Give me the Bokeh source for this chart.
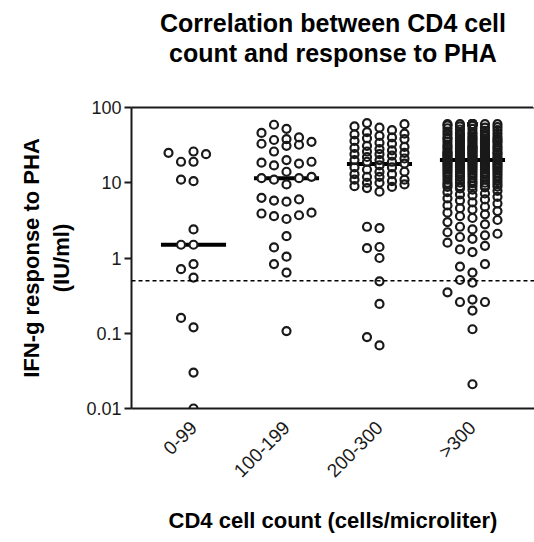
import math
import numpy as np
from bokeh.plotting import figure
from bokeh.models import (Range1d, FixedTicker, CustomJSTickFormatter, Span, ColumnDataSource,
                          Title, LinearAxis)
from bokeh.embed import file_html
from bokeh.resources import INLINE

# ---------------- data ----------------
categories = ["0-99", "100-199", "200-300", ">300"]

pha_0_99 = [26, 24, 25, 19, 19, 11, 10.5, 2.4, 1.5, 1.5, 0.83, 0.71, 0.55, 0.16, 0.12, 0.03, 0.01]

pha_100_199 = [59, 52, 46, 40, 38, 37, 35, 33, 32, 31, 26, 20, 19, 18.5, 18, 17, 14, 12, 11.5,
               11.5, 11, 9.5, 6.3, 6, 5.8, 5.6, 4, 3.9, 3.7, 3.6, 3.3, 1.95, 1.38, 1.04, 0.83,
               0.64, 0.107]

pha_200_300 = [62, 60, 56, 54, 50, 47, 45, 44, 42, 40, 39, 38, 36, 34, 33, 31, 30, 29, 28, 27,
               26, 25, 24, 24, 23, 22, 21, 20, 20, 19, 19, 18, 17, 16, 16, 15, 14, 14, 13, 13,
               12, 12, 11, 11, 10.5, 10, 10, 9.5, 9, 8.8, 8.5, 7.6, 2.6, 2.5, 1.4, 1.35, 1.0,
               0.49, 0.245, 0.089, 0.069]

pha_over_300 = [60, 60, 60, 60, 60, 60, 60, 60, 60, 60, 60, 60, 60, 60,
                58, 57, 56, 55, 54, 53, 52, 51, 50,
                49, 48, 47, 46, 45, 45, 44, 44, 43, 42, 41, 41, 40, 40,
                39, 39, 38, 38, 38, 37, 37, 36, 36, 35, 35, 35, 34, 34, 33, 33, 32, 32, 31, 31,
                31, 30, 30, 30,
                29, 29, 29, 29, 28, 28, 28, 27, 27, 27, 27, 26, 26, 26, 26, 25, 25, 25, 25, 25,
                24, 24, 24, 24, 24, 23, 23, 23, 23, 22, 22, 22, 22, 22, 21, 21, 21, 21, 21,
                20, 20, 20, 20, 20,
                19.5, 19, 19, 19, 18.5, 18.5, 18, 18, 18, 17.5, 17.5, 17, 17, 17, 16.5, 16.5,
                16, 16, 16, 15.5, 15.5, 15, 15, 15, 14.5, 14.5, 14, 14, 14, 13.5, 13.5, 13, 13,
                13, 12.5, 12.5, 12, 12, 12, 11.5, 11.5, 11, 11, 11, 10.5, 10.5, 10, 10, 10,
                9.8, 9.6, 9.4, 9.2, 9, 9, 8.9, 8.8, 8.7,
                8.4, 8.1, 7.8, 7.5, 7.2, 7, 6.8, 6.5, 6.2, 6, 5.8, 5.5, 5.3, 5, 4.8, 4.6, 4.4,
                4.2, 4, 3.8, 3.6, 3.4, 3.2, 3, 2.8, 2.6, 2.4, 2.2, 2.1, 2, 1.9, 1.8, 1.6, 1.45,
                1.3, 1.2,
                0.83, 0.77, 0.64, 0.51, 0.47, 0.35, 0.28, 0.26, 0.26, 0.2, 0.113, 0.021]

medians = [1.5, 11.5, 17.8, 20]
cutoff = 0.5
y_ticks = [0.01, 0.1, 1, 10, 100]
title_lines = ["Correlation between CD4 cell", "count and response to PHA"]

groups = [pha_0_99, pha_100_199, pha_200_300, pha_over_300]

# ---------------- layout / style ----------------
FRAME_W, FRAME_H = 403, 301
X_START, X_END = -0.667, 3.667
Y_START, Y_END = 0.01, 100
MARKER_PX = 10.0
LANE_PX = 12.5
MAX_LANE = 2
MEDIAN_HALF = 0.35
FONT = "Liberation Sans"
INK = "#1a1a1a"
TITLE_GAP = 41   # space between the frame top and the title block

px_per_unit = FRAME_W / (X_END - X_START)
px_per_decade = FRAME_H / (math.log10(Y_END) - math.log10(Y_START))
gap_decades = MARKER_PX / px_per_decade
lane_step = LANE_PX / px_per_unit


def swarm_lanes(values):
    """Greedy column-scatter layout: put each point in the nearest free lane."""
    lane_order = [0]
    for k in range(1, MAX_LANE + 1):
        lane_order += [-k, k]
    last = {}
    lanes = np.zeros(len(values))
    for i in np.argsort(values, kind="stable"):
        ly = math.log10(values[i])
        chosen = None
        for ln in lane_order:
            if ln not in last or ly - last[ln] >= gap_decades:
                chosen = ln
                break
        if chosen is None:
            chosen = max(lane_order, key=lambda ln: ly - last[ln])
        last[chosen] = ly
        lanes[i] = chosen
    return lanes


xs, ys = [], []
for idx, vals in enumerate(groups):
    lanes = swarm_lanes(vals)
    xs.extend(idx + lanes * lane_step)
    ys.extend(vals)

pts = ColumnDataSource(dict(x=xs, y=ys))
med = ColumnDataSource(dict(
    x0=[i - MEDIAN_HALF for i in range(len(categories))],
    x1=[i + MEDIAN_HALF for i in range(len(categories))],
    y=medians,
))

p = figure(
    frame_width=FRAME_W, frame_height=FRAME_H,
    x_range=Range1d(X_START, X_END), y_range=Range1d(Y_START, Y_END),
    y_axis_type="log", output_backend="svg", toolbar_location=None,
    min_border_left=131, min_border_right=0, min_border_top=107, min_border_bottom=134,
    background_fill_color="white", border_fill_color="white",
)
p.outline_line_color = None
p.xgrid.visible = False
p.ygrid.visible = False

xa = p.below[0]
ya = p.left[0]

# top frame line: an unlabeled axis whose (white, invisible) tick at the right edge
# reserves the gap between the frame and the title block
top_axis = LinearAxis(ticker=FixedTicker(ticks=[X_END - 0.01]),
                      formatter=CustomJSTickFormatter(code="return '';"),
                      major_tick_out=TITLE_GAP, major_tick_in=0,
                      major_tick_line_color="white", major_tick_line_width=1,
                      minor_tick_line_color=None,
                      major_label_standoff=0, major_label_text_font_size="0px",
                      axis_line_width=2, axis_line_color=INK)
p.add_layout(top_axis, "above")

# title (two centred lines)
title_style = dict(align="center", text_font=FONT, text_font_size="25px",
                   text_font_style="bold", text_color="black", offset=-7,
                   text_line_height=1.2)
p.add_layout(Title(text=title_lines[1], standoff=0, **title_style), "above")
p.title.text = title_lines[0]
for k, v in title_style.items():
    setattr(p.title, k, v)
p.title.standoff = 0

# y axis
ya.ticker = FixedTicker(ticks=y_ticks)
ya.formatter = CustomJSTickFormatter(code="return tick.toString();")
ya.axis_label = "IFN-g response to PHA\n(IU/ml)"
ya.axis_label_text_font = FONT
ya.axis_label_text_font_size = "22px"
ya.axis_label_text_font_style = "bold"
ya.axis_label_text_color = "black"
ya.axis_label_standoff = 9
ya.major_label_text_font = FONT
ya.major_label_text_font_size = "18px"
ya.major_label_text_color = INK
ya.major_label_standoff = 3
ya.major_tick_out = 7
ya.major_tick_in = 0
ya.major_tick_line_width = 2
ya.major_tick_line_color = INK
ya.minor_tick_line_color = None
ya.axis_line_width = 2
ya.axis_line_color = INK

# x axis
xa.ticker = FixedTicker(ticks=list(range(len(categories))))
xa.major_label_overrides = {i: c for i, c in enumerate(categories)}
xa.major_label_orientation = math.pi / 4
xa.major_label_text_font = FONT
xa.major_label_text_font_size = "19px"
xa.major_label_text_color = INK
xa.major_label_standoff = 10
xa.major_tick_line_color = None
xa.minor_tick_line_color = None
xa.axis_line_width = 2
xa.axis_line_color = INK
xa.axis_label = "CD4 cell count (cells/microliter)"
xa.axis_label_text_font = FONT
xa.axis_label_text_font_size = "22px"
xa.axis_label_text_font_style = "bold"
xa.axis_label_text_color = "black"
xa.axis_label_standoff = 16

# cutoff line
p.add_layout(Span(location=cutoff, dimension="width", line_color="black",
                  line_width=1.5, line_dash="4 3"))

# medians, then white discs (hide the median inside markers), then open rings
p.segment(x0="x0", y0="y", x1="x1", y1="y", source=med, line_color="black", line_width=4)
p.scatter(x="x", y="y", source=pts, marker="circle", size=8,
          fill_color="white", line_color=None)
p.scatter(x="x", y="y", source=pts, marker="circle", size=8,
          fill_color=None, line_color=INK, line_width=2.2)

open("out.html", "w").write(file_html(p, INLINE))
